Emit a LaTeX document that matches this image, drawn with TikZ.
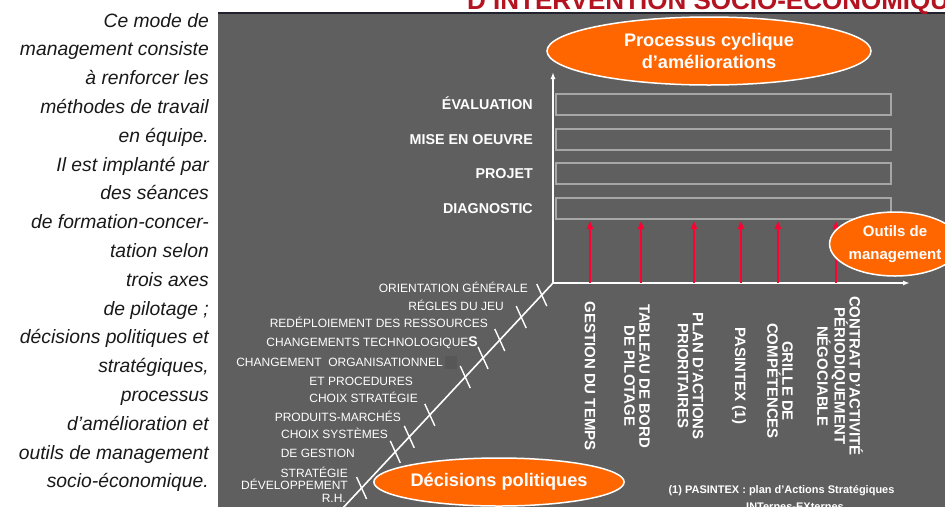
\documentclass[tikz,border=0pt]{standalone}
\usepackage{fontspec}
\setmainfont{Liberation Sans}
\usetikzlibrary{arrows.meta,shapes.geometric,calc}
\definecolor{panel}{HTML}{5F5F5F}
\definecolor{barline}{HTML}{A6A6A6}
\definecolor{orng}{HTML}{FF6600}
\definecolor{redarr}{HTML}{FF0033}
\definecolor{titlered}{HTML}{B3141F}
\definecolor{topline}{HTML}{22222E}
\definecolor{darksq}{HTML}{575757}
\begin{document}
\begin{tikzpicture}[x=1pt,y=-1pt,
  rowlab/.style={font=\bfseries\fontsize{14.3}{16}\selectfont, text=white, anchor=east, inner sep=0pt, text height=10.2pt, text depth=0pt},
  dlab/.style={font=\fontsize{12}{14}\selectfont, text=white, anchor=base east, inner sep=0pt},
  vlab/.style={font=\bfseries\fontsize{15}{15}\selectfont, text=white, rotate=-90, align=center, inner sep=0pt},
  bubble/.style={ellipse, fill=orng, draw=white, line width=1.5pt, text=white, align=center, inner sep=0pt},
  cycbar/.style={rectangle, draw=barline, line width=2pt, inner sep=0pt, outer sep=0pt, minimum width=335pt, minimum height=21pt},
  axis/.style={draw=white, line width=1.6pt, -{Latex[length=7pt,width=5pt]}},
  redarrow/.style={draw=redarr, line width=2pt, -{Triangle[length=8pt,width=6pt]}, shorten >=2pt},
  tickmark/.style={draw=white, line width=1.4pt},
]
\useasboundingbox (0,0) rectangle (945,507);
\clip (0,0) rectangle (945,507);

% panel
\fill[panel] (218,13) rectangle (945,507);
\draw[topline, line width=1.5pt] (218,13) -- (945,13);

% title (cropped)
\node[anchor=base west, inner sep=0pt, font=\bfseries\fontsize{26}{26}\selectfont, text=titlered] (title) at (467,9) {D’INTERVENTION SOCIO-ÉCONOMIQUE};

% left text
\node[anchor=north east, inner sep=0pt, align=right, text=black!90, font=\itshape\fontsize{19.3}{28.8}\selectfont] (intro) at (209,13)
 {Ce mode de\\management consiste\\à renforcer les\\méthodes de travail\\en équipe.\\Il est implanté par\\des séances\\de formation-concer-\\tation selon\\trois axes\\de pilotage ;\\décisions politiques et\\stratégiques,\\processus\\d’amélioration et\\outils de management\\socio-économique.};

% bars
\node[cycbar] (bar1) at (723.5,104.5) {};
\node[cycbar] (bar2) at (723.5,139.5) {};
\node[cycbar] (bar3) at (723.5,173.5) {};
\node[cycbar] (bar4) at (723.5,208.5) {};
\node[rowlab] (l1) at (533,104.5) {ÉVALUATION};
\node[rowlab] (l2) at (533,139.5) {MISE EN OEUVRE};
\node[rowlab] (l3) at (533,173.5) {PROJET};
\node[rowlab] (l4) at (533,208.5) {DIAGNOSTIC};

% axes
\coordinate (O) at (553,283);
\coordinate (Ytop) at (553,72);
\coordinate (Xend) at (910,283);
\coordinate (Dend) at (341,510);
\draw[axis] (O) -- (Ytop);
\draw[axis] (O) -- (Xend);
\draw[white, line width=1.6pt] (O) -- (Dend);
\foreach \t in {0.053,0.150,0.251,0.330,0.414,0.581,0.678,0.744,0.903}
  \draw[tickmark] ($(O)!\t!(Dend)$) ++(-5,-11) -- ++(10,22);

% red arrows
\foreach \x [count=\i] in {590,641,694,741,778,836} {
  \coordinate (rb\i) at (\x,283);
  \draw[redarrow] (rb\i) -- (rb\i |- bar4.south);
}

% diagonal labels
\fill[darksq] (445,356) rectangle (457,369);
\node[dlab] (d1) at (528,292.3) {ORIENTATION GÉNÉRALE};
\node[dlab] (d2) at (504,310) {RÉGLES DU JEU};
\node[dlab] (d3) at (488,327.5) {REDÉPLOIEMENT DES RESSOURCES};
\node[dlab] (d4) at (478,346.5) {CHANGEMENTS TECHNOLOGIQUE{\bfseries\fontsize{14}{14}\selectfont S}};
\node[dlab] (d5) at (443,366.5) {CHANGEMENT\ \ ORGANISATIONNEL};
\node[dlab] (d6) at (413,385.5) {ET PROCEDURES};
\node[dlab] (d7) at (418,402.5) {CHOIX STRATÉGIE};
\node[dlab] (d8) at (401,421.5) {PRODUITS-MARCHÉS};
\node[dlab] (d9) at (388,438.5) {CHOIX SYSTÈMES};
\node[dlab] (d10) at (355,457.5) {DE GESTION};
\node[dlab] (d11) at (348,477) {STRATÉGIE};
\node[dlab] (d12) at (348,489.5) {DÉVELOPPEMENT};
\node[dlab] (d13) at (346,502.5) {R.H.};

% vertical labels
\node[vlab] (v1) at (590,376) {GESTION DU TEMPS};
\node[vlab] (v2) at (637,376) {TABLEAU DE BORD\\DE PILOTAGE};
\node[vlab] (v3) at (690.5,376) {PLAN D’ACTIONS\\PRIORITAIRES};
\node[vlab] (v4) at (739,376) {PASINTEX (1)};
\node[vlab] (v5) at (780,381) {GRILLE DE\\COMPÉTENCES};
\node[vlab] (v6) at (840,376) {CONTRAT D’ACTIVITÉ\\PÉRIODIQUEMENT\\NÉGOCIABLE};

% footnote
\node[anchor=base, inner sep=0pt, text=white, font=\bfseries\fontsize{11}{15}\selectfont] (fn1) at (781.5,493) {(1) PASINTEX : plan d’Actions Stratégiques};
\node[anchor=base, inner sep=0pt, text=white, font=\bfseries\fontsize{11}{15}\selectfont] (fn2) at (795,510) {INTernes-EXternes};

% bubbles
\node[bubble, minimum width=324pt, minimum height=68pt, font=\bfseries\fontsize{18.2}{22}\selectfont] (proc) at (709,51) {Processus cyclique\\d’améliorations};
\node[bubble, minimum width=114pt, minimum height=64pt, font=\bfseries\fontsize{15}{23}\selectfont] (outils) at (895,244) {Outils de\\management};
\node[bubble, minimum width=212pt, minimum height=48pt, font=\bfseries\fontsize{18.2}{22}\selectfont] (dec) at (499,482) {Décisions politiques};
\end{tikzpicture}
\end{document}
